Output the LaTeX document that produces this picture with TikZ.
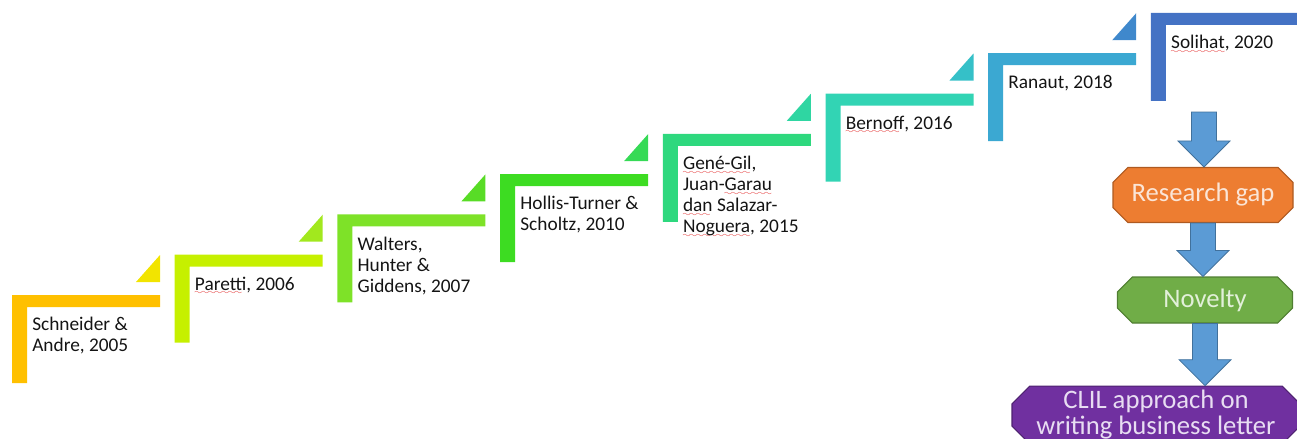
\documentclass[tikz,border=0pt]{standalone}
\usepackage{fontspec}
\setmainfont{Carlito}
\usetikzlibrary{calc,shapes.misc}

\definecolor{stepA}{HTML}{FFC000}
\definecolor{triA}{HTML}{F2E400}
\definecolor{stepB}{HTML}{C6F000}
\definecolor{triB}{HTML}{A2E81E}
\definecolor{stepC}{HTML}{7EE228}
\definecolor{triC}{HTML}{58DC26}
\definecolor{stepD}{HTML}{3DDC22}
\definecolor{triD}{HTML}{36DA56}
\definecolor{stepE}{HTML}{2ED87E}
\definecolor{triE}{HTML}{2FD6A2}
\definecolor{stepF}{HTML}{32D4B4}
\definecolor{triF}{HTML}{35C0C8}
\definecolor{stepG}{HTML}{3BA8D2}
\definecolor{triG}{HTML}{3F88CC}
\definecolor{stepH}{HTML}{4472C4}
\definecolor{stepink}{HTML}{141414}
\definecolor{spell}{HTML}{E02020}
\definecolor{arrowblue}{HTML}{5B9BD5}
\definecolor{arrowedge}{HTML}{41719C}
\definecolor{gaporange}{HTML}{ED7D31}
\definecolor{gapedge}{HTML}{AE5A21}
\definecolor{gaptext}{HTML}{FBE5D6}
\definecolor{novgreen}{HTML}{70AD47}
\definecolor{novedge}{HTML}{507E32}
\definecolor{novtext}{HTML}{E2F0D9}
\definecolor{clilpurple}{HTML}{7030A0}
\definecolor{cliledge}{HTML}{4E2270}
\definecolor{cliltext}{HTML}{E8DDF2}

% red wavy spell-check underline
\font\wavefont=lasy6
\newsavebox{\spellbox}
\newcommand{\spellerr}[1]{\sbox{\spellbox}{#1}%
  \rlap{\lower3.4pt\hbox to \wd\spellbox{\color{spell}\leaders\hbox{\wavefont\char58}\hfil}}%
  \usebox{\spellbox}}

\tikzset{
  steptext/.style={anchor=north west, inner sep=0pt, align=left, text=stepink,
    font=\fontsize{14.5}{15.8}\selectfont},
  flowbox/.style={chamfered rectangle, chamfered rectangle xsep=8pt, draw,
    line width=0.8pt, inner sep=0pt, font=\fontsize{20}{19.5}\selectfont},
  blockarrow/.style={fill=arrowblue, draw=arrowedge, line width=0.6pt}
}

% block arrow pointing down from #1 to #2
\newcommand{\blockdown}[2]{%
  \draw[blockarrow] let \p1=(#1), \p2=(#2) in
    (\x1-9.4pt,\y1) -- (\x1+9.4pt,\y1) -- (\x1+9.4pt,\y2+19.5pt) -- (\x1+19.5pt,\y2+19.5pt)
    -- (\x1,\y2) -- (\x1-19.5pt,\y2+19.5pt) -- (\x1-9.4pt,\y2+19.5pt) -- cycle;
}

\begin{document}
\begin{tikzpicture}[x=0.75pt,y=-0.75pt]
    \clip (0,0) rectangle (1297,439);
    % steps
    \foreach \i/\lcol/\tcol/\txt in {%
        0/stepA/triA/{Schneider \&\\Andre, 2005},
        1/stepB/triB/{\spellerr{Paretti}, 2006},
        2/stepC/triC/{Walters,\\Hunter \&\\Giddens, 2007},
        3/stepD/triD/{Hollis-Turner \&\\Scholtz, 2010},
        4/stepE/triE/{\spellerr{Gené-Gil},\\Juan-\spellerr{Garau}\\\spellerr{dan} Salazar-\\\spellerr{Noguera}, 2015},
        5/stepF/triF/{\spellerr{Bernoff}, 2016},
        6/stepG/triG/{Ranaut, 2018},
        7/stepH/stepH/{\spellerr{Solihat}, 2020}} {
        \pgfmathsetmacro{\sx}{12+162.7*\i}
        \pgfmathsetmacro{\sy}{295-40.3*\i}
        \fill[\lcol] (\sx,\sy) -- ++(148,0) -- ++(0,12) -- ++(-133,0) -- ++(0,76) -- ++(-15,0) -- cycle;
        \fill[\tcol] (\sx+148,\sy-13) -- ++(-24,0) -- ++(24,-27) -- cycle;
        \node[steptext] (step\i) at (\sx+20,\sy+22) {\txt};
    }
    % flow on the right
    \coordinate (a1) at (1204,112);
    \node[flowbox, fill=gaporange, draw=gapedge, text=gaptext,
      minimum width=135pt, minimum height=41.25pt] (gap) at (1203,195) {Research gap};
    \node[flowbox, fill=novgreen, draw=novedge, text=novtext,
      minimum width=131.25pt, minimum height=34.5pt] (novelty) at (1205,300) {Novelty};
    \node[flowbox, fill=clilpurple, draw=cliledge, text=cliltext, align=center,
      chamfered rectangle xsep=10pt, minimum width=216pt, minimum height=42pt] (clil) at (1156,415)
      {CLIL approach on\\writing business letter};
    \blockdown{a1}{gap.north}
    \blockdown{gap.south}{novelty.north}
    \blockdown{novelty.south}{novelty.south |- clil.north}
\end{tikzpicture}
\end{document}
